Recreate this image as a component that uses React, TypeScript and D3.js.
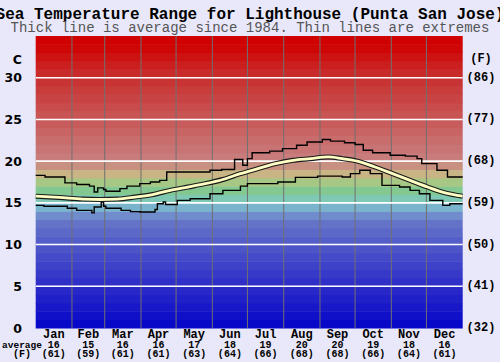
import React from 'react';
import * as d3 from 'd3';

// month labels along the bottom
const months = ['Jan', 'Feb', 'Mar', 'Apr', 'May', 'Jun', 'Jul', 'Aug', 'Sep', 'Oct', 'Nov', 'Dec'];
const monthStartDays = [0, 31, 59, 90, 120, 151, 181, 212, 243, 273, 304, 334, 365];
const monthAvgC = [16, 15, 16, 16, 17, 18, 19, 20, 20, 19, 18, 16];
const monthAvgF = [61, 59, 61, 61, 63, 64, 66, 68, 68, 66, 64, 61];

const celsiusTicks = [0, 5, 10, 15, 20, 25, 30];
const fahrenheitTicks = [32, 41, 50, 59, 68, 77, 86];

// highest recorded (day of year, deg C)
const maxDays = [0, 8, 25, 35, 46, 50, 53, 58, 60, 72, 78, 89, 98, 106, 112, 132, 149, 159, 170, 177, 181, 185, 200, 211, 223, 232, 245, 252, 264, 273, 280, 288, 303, 316, 326, 330, 343, 352, 365];
const maxTemps = [18.3, 18.1, 17.4, 17.2, 17.0, 16.3, 16.8, 16.6, 16.4, 16.7, 17.0, 17.3, 17.5, 17.7, 18.7, 18.7, 18.9, 19.0, 20.2, 19.5, 20.3, 21.0, 21.2, 21.5, 21.9, 22.3, 22.6, 22.4, 22.2, 22.0, 21.3, 21.0, 20.7, 20.6, 20.3, 19.7, 18.9, 18.1, 18.1];

// average since 1984
const avgDays = [0, 20, 40, 55, 70, 85, 100, 115, 130, 145, 160, 175, 190, 205, 220, 235, 250, 262, 275, 290, 305, 320, 335, 350, 365];
const avgTemps = [15.8, 15.65, 15.45, 15.4, 15.45, 15.7, 16.0, 16.5, 16.9, 17.3, 17.8, 18.5, 19.1, 19.7, 20.1, 20.3, 20.5, 20.3, 20.0, 19.3, 18.5, 17.7, 16.9, 16.2, 15.8];

// lowest recorded
const minDays = [0, 7, 27, 35, 48, 50, 56, 58, 60, 73, 81, 89, 102, 104, 109, 111, 121, 132, 149, 160, 175, 181, 207, 222, 241, 262, 269, 277, 286, 296, 311, 320, 328, 337, 348, 354, 365];
const minTemps = [14.7, 14.6, 14.35, 14.1, 13.8, 14.5, 15.1, 14.6, 14.35, 14.1, 13.95, 13.9, 14.2, 14.9, 15.1, 14.8, 15.3, 15.5, 16.1, 16.5, 17.0, 17.3, 17.5, 18.05, 18.2, 18.1, 18.5, 18.9, 18.5, 17.1, 16.9, 16.5, 16.1, 15.3, 14.7, 14.9, 14.9];

const W = 500;
const H = 362;
const margin = { left: 35.7, right: 37.3, top: 36, bottom: 34 };

// colour of each 1 degree band
const bandColor = d3.scaleLinear<string>()
  .domain([0, 5, 10, 13, 14, 15, 16, 17, 18, 19, 20, 25, 30, 34])
  .range(['#0404c8', '#2c2cc8', '#5058c8', '#6878c8', '#78a0d0', '#7cc8c8', '#80c8a0', '#84c880', '#c8c888', '#c8a080', '#c88080', '#c85858', '#c83030', '#d00000'])
  .interpolate(d3.interpolateRgb);

const mono = '"Liberation Mono", "Courier New", monospace';

export default function App() {
  const x = d3.scaleLinear().domain([0, 365]).range([margin.left, W - margin.right]);
  const y = d3.scaleLinear().domain([0, 35]).range([H - margin.bottom, margin.top]);

  const stepLine = d3.line<[number, number]>()
    .x(d => x(d[0]))
    .y(d => y(d[1]))
    .curve(d3.curveStepAfter);
  const smoothLine = d3.line<[number, number]>()
    .x(d => x(d[0]))
    .y(d => y(d[1]))
    .curve(d3.curveMonotoneX);

  const maxPts = maxDays.map((d, i) => [d, maxTemps[i]] as [number, number]);
  const minPts = minDays.map((d, i) => [d, minTemps[i]] as [number, number]);
  const avgPts = avgDays.map((d, i) => [d, avgTemps[i]] as [number, number]);

  const bands = d3.range(0, 35);

  return (
    <div style={{ position: 'absolute', left: 0, top: 0 }}>
      <svg width={W} height={H} style={{ display: 'block', background: '#e8e8fa' }}>
        {bands.map(b => (
          <rect key={b} x={x(0)} width={x(365) - x(0)} y={y(b + 1)} height={y(b) - y(b + 1) + 0.5}
            fill={bandColor(b + 0.5)} />
        ))}
        {monthStartDays.slice(1, 12).map(d => (
          <line key={d} x1={x(d)} x2={x(d)} y1={y(35)} y2={y(0)} stroke="#707070" strokeWidth={1} />
        ))}
        {celsiusTicks.slice(1).map(t => (
          <line key={t} x1={x(0)} x2={x(365)} y1={y(t)} y2={y(t)} stroke="#ffffff" strokeWidth={1.6} />
        ))}

        <path d={stepLine(maxPts) || ''} fill="none" stroke="#000" strokeWidth={1.4} />
        <path d={stepLine(minPts) || ''} fill="none" stroke="#000" strokeWidth={1.4} />
        <path d={smoothLine(avgPts) || ''} fill="none" stroke="#1a1a1a" strokeWidth={5} />
        <path d={smoothLine(avgPts) || ''} fill="none" stroke="#ffffc4" strokeWidth={2.8} />

        {/* titles */}
        <text x={250} y={19} textAnchor="middle" fontFamily={mono} fontWeight="bold" fontSize={16} fill="#000">
          Sea Temperature Range for Lighthouse (Punta San Jose)
        </text>
        <text x={250} y={32} textAnchor="middle" fontFamily={mono} fontSize={14} fill="#555">
          Thick line is average since 1984. Thin lines are extremes
        </text>

        {/* left axis */}
        <text x={22} y={y(32.2)} textAnchor="end" dominantBaseline="central" fontFamily="DejaVu Sans" fontWeight="bold" fontSize={12.5}>C</text>
        {celsiusTicks.map(t => (
          <text key={t} x={22} y={y(t)} textAnchor="end" dominantBaseline="central"
            fontFamily="DejaVu Sans" fontWeight="bold" fontSize={12.5}>{t}</text>
        ))}

        {/* right axis */}
        <text x={481} y={y(32.2)} textAnchor="middle" dominantBaseline="central" fontFamily={mono} fontWeight="bold" fontSize={12}>(F)</text>
        {fahrenheitTicks.map((f, i) => (
          <text key={f} x={481} y={y(celsiusTicks[i])} textAnchor="middle" dominantBaseline="central"
            fontFamily={mono} fontWeight="bold" fontSize={12}>({f})</text>
        ))}

        {/* months */}
        {months.map((m, i) => {
          const cx = x((monthStartDays[i] + monthStartDays[i + 1]) / 2);
          return (
            <g key={m} fontFamily={mono} fontWeight="bold" textAnchor="middle">
              <text x={cx} y={338} fontSize={12}>{m}</text>
              <text x={cx} y={347.5} fontSize={10}>{monthAvgC[i]}</text>
              <text x={cx} y={357} fontSize={10}>({monthAvgF[i]})</text>
            </g>
          );
        })}
        <text x={22} y={347.5} textAnchor="middle" fontFamily={mono} fontWeight="bold" fontSize={9.5}>average</text>
        <text x={22} y={357} textAnchor="middle" fontFamily={mono} fontWeight="bold" fontSize={10}>(F)</text>
      </svg>
    </div>
  );
}
